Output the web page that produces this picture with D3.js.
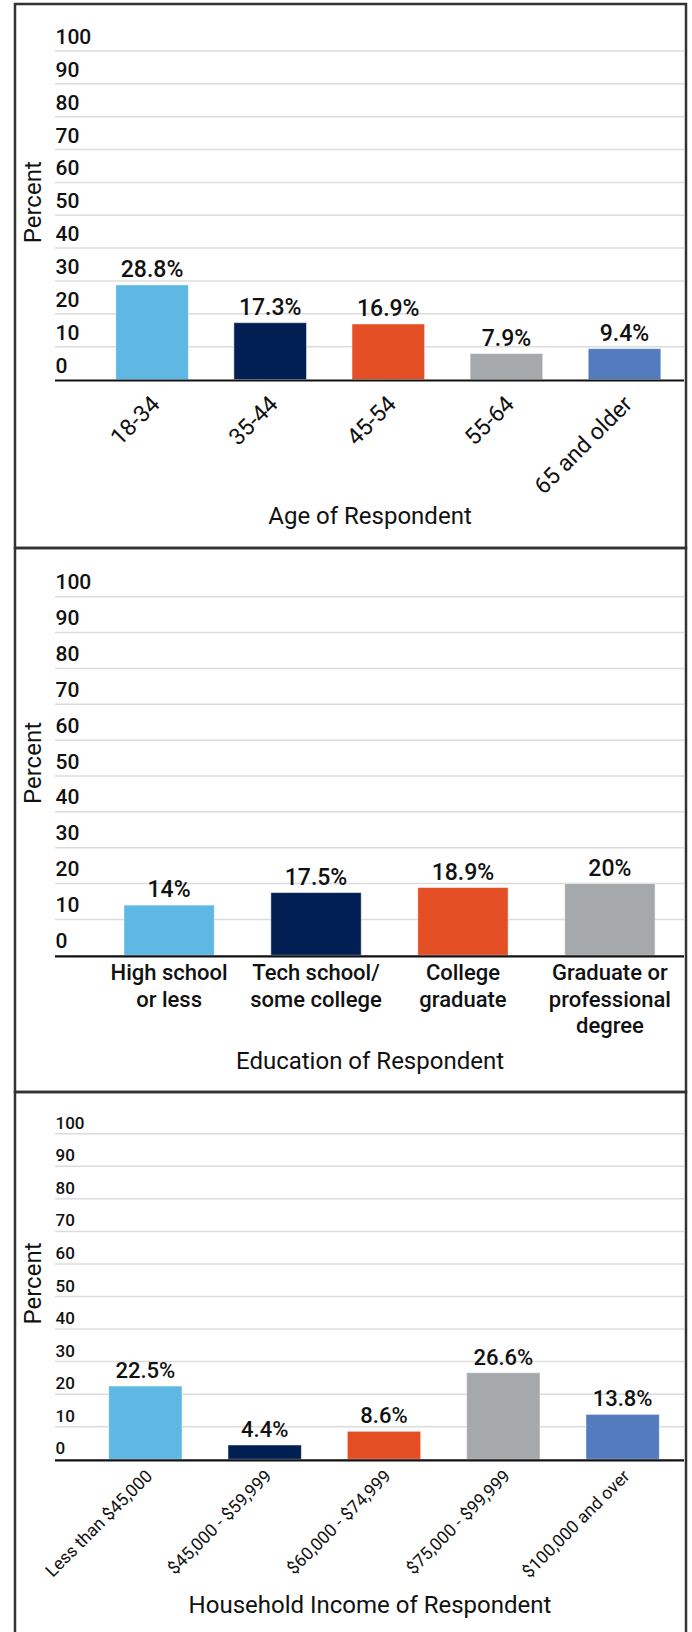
<!DOCTYPE html>
<html>
<head>
<meta charset="utf-8">
<script src="https://cdn.jsdelivr.net/npm/d3@7"></script>
<style>
  body { margin: 0; background: #fff; }
  svg text { font-family: Roboto, "Noto Sans", sans-serif; fill: #111; }
</style>
</head>
<body>
<div id="chart"></div>
<script>
// --- data ---
const ageCategories = ["18-34", "35-44", "45-54", "55-64", "65 and older"];
const ageValues = [28.8, 17.3, 16.9, 7.9, 9.4];

const eduCategories = ["High school\nor less", "Tech school/\nsome college", "College\ngraduate", "Graduate or\nprofessional\ndegree"];
const eduValues = [14, 17.5, 18.9, 20];

const incomeCategories = ["Less than $45,000", "$45,000 - $59,999", "$60,000 - $74,999", "$75,000 - $99,999", "$100,000 and over"];
const incomeValues = [22.5, 4.4, 8.6, 26.6, 13.8];

const yTicks = [0, 10, 20, 30, 40, 50, 60, 70, 80, 90, 100];
const palette = ["#5fb7e4", "#011f52", "#e44f25", "#a5a9ac", "#537cbf"];

const W = 692, H = 1632;
const svg = d3.select("#chart").append("svg").attr("width", W).attr("height", H);

// panel frames
[[4, 548], [548, 1092], [1092, 1650]].forEach(([y0, y1]) => {
  svg.append("rect").attr("x", 15).attr("y", y0).attr("width", 671).attr("height", y1 - y0)
    .attr("fill", "none").attr("stroke", "#333").attr("stroke-width", 2.5);
});

function drawPanel(o) {
  const g = svg.append("g");
  const y = d3.scaleLinear().domain([0, 100]).range([o.y0, o.y100]);
  const x = d3.scaleBand().domain(o.cats).range(o.xr).paddingInner(0.385).paddingOuter(0.19);

  // gridlines + tick labels
  yTicks.forEach(t => {
    if (t > 0) {
      g.append("line").attr("x1", 55).attr("x2", 684).attr("y1", y(t)).attr("y2", y(t))
        .attr("stroke", "#dcdcdc").attr("stroke-width", 1.5);
    }
    g.append("text").attr("x", 55.5).attr("y", y(t) - o.tickGap)
      .attr("font-size", o.tickSize).attr("font-weight", 500).text(t);
  });

  // bars
  o.vals.forEach((v, i) => {
    const c = o.cats[i];
    g.append("rect").attr("x", x(c)).attr("y", y(v)).attr("width", x.bandwidth()).attr("height", y(0) - y(v))
      .attr("fill", palette[i]).attr("stroke", "rgba(255,255,255,0.5)").attr("stroke-width", 1);
    g.append("text").attr("x", x(c) + x.bandwidth() / 2).attr("y", y(v) - 8)
      .attr("text-anchor", "middle").attr("font-size", o.valSize).attr("font-weight", 500)
      .text(v + "%");
  });

  // baseline
  g.append("line").attr("x1", 55).attr("x2", 684).attr("y1", y(0) + 1).attr("y2", y(0) + 1)
    .attr("stroke", "#111").attr("stroke-width", 2.2);

  // category labels
  o.cats.forEach(c => {
    const cx = x(c) + x.bandwidth() / 2;
    if (o.rotate) {
      g.append("text").attr("transform", `translate(${cx + o.rotDx},${y(0) + o.rotDy}) rotate(-45)`)
        .attr("text-anchor", "end").attr("font-size", o.catSize).text(c);
    } else {
      const t = g.append("text").attr("text-anchor", "middle").attr("font-size", o.catSize).attr("font-weight", 500);
      c.split("\n").forEach((line, k) => {
        t.append("tspan").attr("x", cx).attr("y", y(0) + 25 + k * 26.5).text(line);
      });
    }
  });

  // axis titles
  g.append("text").attr("transform", `translate(41,${(y(0) + y(100)) / 2 - 13}) rotate(-90)`)
    .attr("text-anchor", "middle").attr("font-size", 24).text("Percent");
  g.append("text").attr("x", 370).attr("y", o.titleY).attr("text-anchor", "middle")
    .attr("font-size", 24).text(o.title);
}

drawPanel({
  cats: ageCategories, vals: ageValues, y0: 379.5, y100: 51, xr: [93.3, 683.3],
  tickSize: 21, tickGap: 7, valSize: 23, catSize: 23, rotate: true, rotDx: 9, rotDy: 26,
  titleY: 524, title: "Age of Respondent"
});
drawPanel({
  cats: eduCategories, vals: eduValues, y0: 955.3, y100: 596.7, xr: [96, 683],
  tickSize: 21, tickGap: 7.4, valSize: 23, catSize: 22, rotate: false,
  titleY: 1069, title: "Education of Respondent"
});
drawPanel({
  cats: incomeCategories, vals: incomeValues, y0: 1459.3, y100: 1133.7, xr: [86, 682],
  tickSize: 17, tickGap: 5, valSize: 22, catSize: 17.5, rotate: true, rotDx: 8, rotDy: 18,
  titleY: 1613, title: "Household Income of Respondent"
});
</script>
</body>
</html>
